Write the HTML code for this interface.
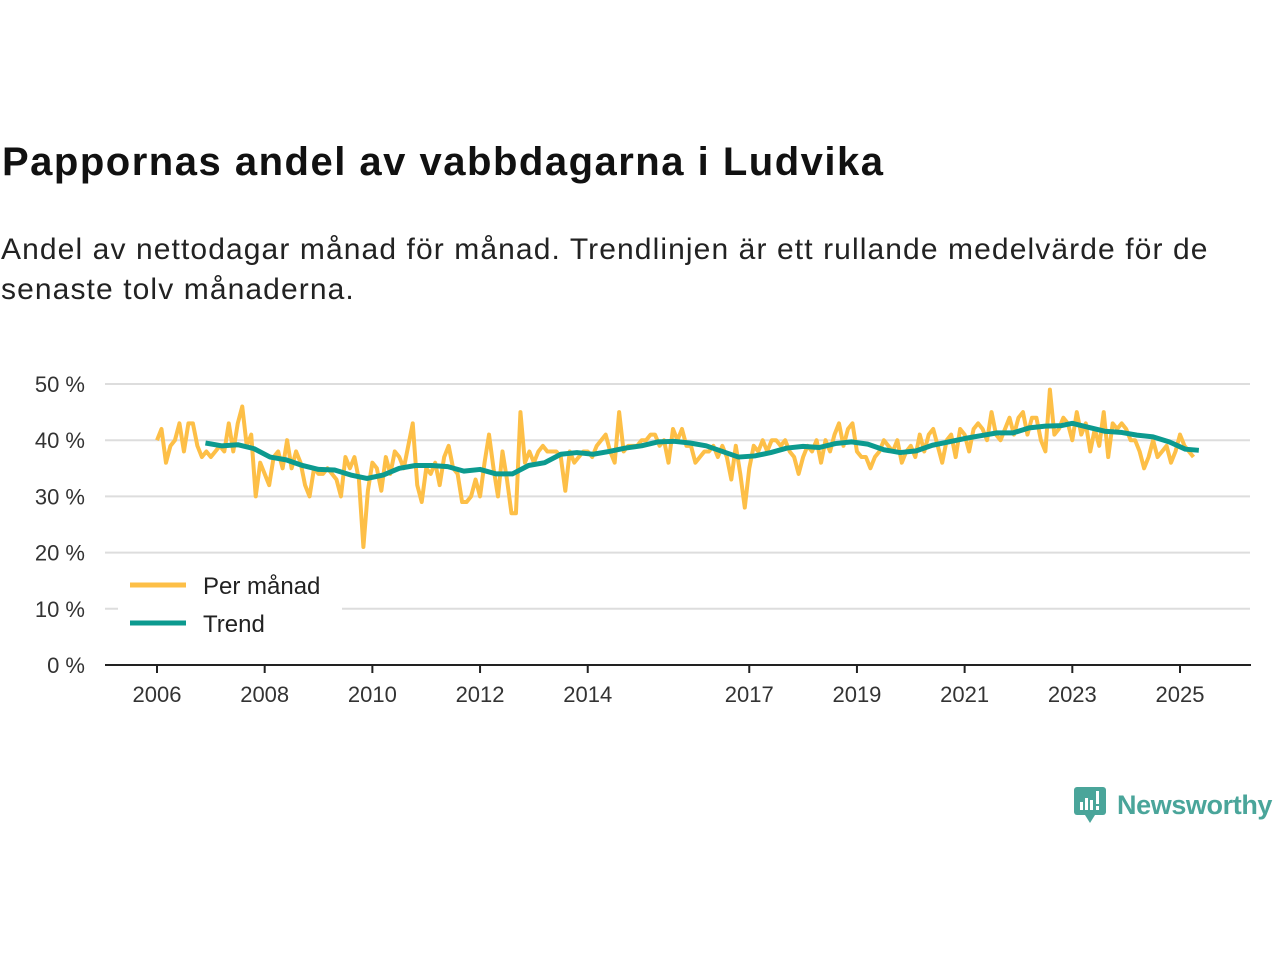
<!DOCTYPE html>
<html><head><meta charset="utf-8"><style>
body{margin:0;background:#fff;width:1280px;height:960px;overflow:hidden;font-family:"Liberation Sans","DejaVu Sans",sans-serif;color:#111}
h1{position:absolute;left:2px;top:140px;margin:0;font-size:40px;font-weight:bold;letter-spacing:1.5px}
p{position:absolute;left:1px;top:230px;margin:0;font-size:30px;line-height:40px;width:1235px;color:#222;letter-spacing:1.1px}
svg{position:absolute;left:0;top:0}
</style></head><body>
<h1>Pappornas andel av vabbdagarna i Ludvika</h1>
<p>Andel av nettodagar månad för månad. Trendlinjen är ett rullande medelvärde för de senaste tolv månaderna.</p>
<svg id="chart" width="1280" height="960"></svg>
<div style="position:absolute;left:1073px;top:785px;display:flex;align-items:center">
<svg width="34" height="40" style="position:static"><rect x="1" y="2" width="32" height="28" rx="3" fill="#4aa59a"/><polygon points="12,30 22,30 17,38" fill="#4aa59a"/><rect x="7" y="17" width="3" height="8" fill="#fff"/><rect x="12" y="13" width="3" height="12" fill="#fff"/><rect x="17" y="15" width="3" height="10" fill="#fff"/><rect x="23" y="6" width="3" height="13" fill="#fff"/><rect x="23" y="21" width="3" height="4" fill="#fff"/></svg>
<span style="font-size:27px;color:#4aa59a;margin-left:10px;font-weight:bold;letter-spacing:-0.4px">Newsworthy</span></div>
<script>
const yTicks=[0,10,20,30,40,50];
const xTicks=[2006,2008,2010,2012,2014,2017,2019,2021,2023,2025];
const monthly=[40,42,36,39,40,43,38,43,43,39,37,38,
37,38,39,38,43,38,43,46,39,41,30,36,
34,32,37,38,35,40,35,38,36,32,30,35,
34,34,35,34,33,30,37,35,37,33,21,31,
36,35,31,37,34,38,37,35,39,43,32,29,
35,34,36,32,37,39,35,34,29,29,30,33,
30,36,41,35,30,38,33,27,27,45,36,38,
36,38,39,38,38,38,37,31,38,36,37,38,
38,37,39,40,41,38,36,45,38,39,39,39,
40,40,41,41,39,40,36,42,40,42,39,39,
36,37,38,38,39,37,39,37,33,39,34,28,
35,39,38,40,38,40,40,39,40,38,37,34,
37,39,38,40,36,40,38,41,43,39,42,43,
38,37,37,35,37,38,40,39,38,40,36,38,
39,37,41,38,41,42,39,36,40,41,37,42,
41,38,42,43,42,40,45,41,40,42,44,41,
44,45,41,44,44,40,38,49,41,42,44,43,
40,45,41,43,38,42,39,45,37,43,42,43,
42,40,40,38,35,37,40,37,38,39,36,38,
41,39,38,37];
const trendX=[2006.9,2007.2,2007.5,2007.8,2008.1,2008.4,2008.7,2009.0,2009.3,2009.6,2009.9,2010.2,2010.5,2010.8,2011.1,2011.4,2011.7,2012.0,2012.3,2012.6,2012.9,2013.2,2013.5,2013.8,2014.1,2014.4,2014.7,2015.0,2015.3,2015.6,2015.9,2016.2,2016.5,2016.8,2017.1,2017.4,2017.7,2018.0,2018.3,2018.6,2018.9,2019.2,2019.5,2019.8,2020.1,2020.4,2020.7,2021.0,2021.3,2021.6,2021.9,2022.2,2022.5,2022.8,2023.0,2023.3,2023.6,2023.9,2024.2,2024.5,2024.8,2025.1,2025.35];
const trendY=[39.5,39,39.2,38.5,37,36.5,35.5,34.8,34.7,33.8,33.2,33.8,35,35.5,35.5,35.3,34.5,34.8,34,34,35.5,36,37.5,37.8,37.5,38,38.6,39,39.7,39.8,39.5,39,38,37,37.2,37.8,38.6,38.9,38.7,39.4,39.7,39.3,38.3,37.8,38.1,39.1,39.7,40.3,40.8,41.3,41.3,42.2,42.5,42.6,43,42.3,41.6,41.4,40.9,40.6,39.7,38.4,38.2];
const NS="http://www.w3.org/2000/svg";
const svg=document.getElementById('chart');
const X=t=>157+(t-2006)*(1023/19);
const Y=v=>665-v*5.62;
function el(tag,attrs,parent){const e=document.createElementNS(NS,tag);for(const k in attrs)e.setAttribute(k,attrs[k]);(parent||svg).appendChild(e);return e;}
yTicks.forEach(v=>{
  if(v>0){const g=el('line',{x1:105,x2:1250,y1:Y(v),y2:Y(v),stroke:'#ddd','stroke-width':2});
  
  }
  const t=el('text',{x:85,y:Y(v)+8,'text-anchor':'end','font-size':22,fill:'#333'});
  t.textContent=v+' %';
  
  
});
const ax=el('line',{x1:105,x2:1251,y1:665,y2:665,stroke:'#222','stroke-width':2});


xTicks.forEach(yr=>{
  el('line',{x1:X(yr),x2:X(yr),y1:665,y2:673,stroke:'#222','stroke-width':2});
  const t=el('text',{x:X(yr),y:702,'text-anchor':'middle','font-size':22,fill:'#333'});
  t.textContent=yr;
  
  
});
const mp=el('polyline',{points:monthly.map((v,i)=>X(2006+i/12)+','+Y(v)).join(' '),fill:'none',stroke:'#fdbf47','stroke-width':4,'stroke-linejoin':'round'});


const tp=el('polyline',{points:trendX.map((t,i)=>X(t)+','+Y(trendY[i])).join(' '),fill:'none',stroke:'#0c9a8f','stroke-width':5,'stroke-linejoin':'round'});


const lb=el('rect',{x:118,y:565,width:224,height:80,fill:'#fff'});


[['Per månad','#fdbf47',585],['Trend','#0c9a8f',623]].forEach(([n,c,y])=>{
  el('line',{x1:130,x2:186,y1:y,y2:y,stroke:c,'stroke-width':5});
  const t=el('text',{x:203,y:y+9,'font-size':24,fill:'#222'});
  t.textContent=n;
  
  
});
</script>
</body></html>
